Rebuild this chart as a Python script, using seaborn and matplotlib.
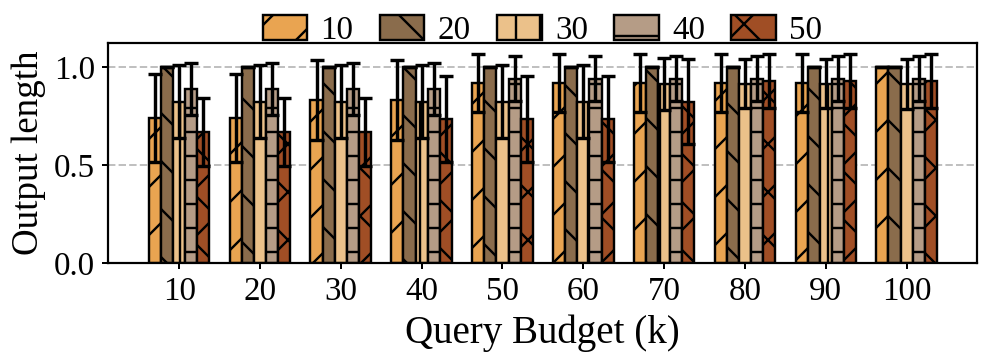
import numpy as np
import pandas as pd
import matplotlib
matplotlib.use('Agg')
import matplotlib.pyplot as plt
import seaborn as sns

budgets = ['10', '20', '30', '40', '50', '60', '70', '80', '90', '100']
series = ['10', '20', '30', '40', '50']

mean_10 = [0.74, 0.74, 0.83, 0.83, 0.92, 0.92, 0.92, 0.92, 0.92, 1.00]
err_10 = [0.225, 0.225, 0.205, 0.205, 0.148, 0.148, 0.148, 0.148, 0.148, 0.0]
mean_20 = [1.00, 1.00, 1.00, 1.00, 1.00, 1.00, 1.00, 1.00, 1.00, 1.00]
err_20 = [0.0, 0.0, 0.0, 0.0, 0.0, 0.0, 0.0, 0.0, 0.0, 0.0]
mean_30 = [0.823, 0.823, 0.823, 0.823, 0.823, 0.823, 0.912, 0.914, 0.914, 0.914]
err_30 = [0.187, 0.187, 0.187, 0.187, 0.187, 0.187, 0.134, 0.126, 0.126, 0.127]
mean_40 = [0.888, 0.888, 0.888, 0.888, 0.94, 0.94, 0.94, 0.94, 0.94, 0.94]
err_40 = [0.131, 0.131, 0.131, 0.131, 0.114, 0.114, 0.114, 0.114, 0.114, 0.114]
mean_50 = [0.668, 0.668, 0.668, 0.733, 0.733, 0.733, 0.822, 0.927, 0.927, 0.927]
err_50 = [0.175, 0.175, 0.175, 0.22, 0.22, 0.22, 0.217, 0.139, 0.139, 0.139]

means = [mean_10, mean_20, mean_30, mean_40, mean_50]
errs = [err_10, err_20, err_30, err_40, err_50]
colors = ['#E9A451', '#8A6C4C', '#EBC18A', '#B59C86', '#A04E25']
hatches = ['/', '\\', '|', '-', 'x']

rows = []
for s, m in zip(series, means):
    for b, v in zip(budgets, m):
        rows.append({'budget': b, 'series': s, 'value': v})
df = pd.DataFrame(rows)

sns.set_style('ticks')
plt.rcParams['font.family'] = ['Liberation Serif', 'DejaVu Serif']
plt.rcParams['hatch.linewidth'] = 1.2
plt.rcParams['text.color'] = 'black'
plt.rcParams['axes.labelcolor'] = 'black'
plt.rcParams['xtick.color'] = 'black'
plt.rcParams['ytick.color'] = 'black'

fig = plt.figure(figsize=(997 / 144, 356 / 144), dpi=144)
ax = fig.add_axes([108 / 997, 1 - 263 / 356, (977 - 108) / 997, (263 - 43) / 356])

sns.barplot(data=df, x='budget', y='value', hue='series', order=budgets,
            hue_order=series, palette=colors, errorbar=None, width=0.75,
            edgecolor='black', linewidth=1.2, saturation=1, legend=False, ax=ax)

bar_containers = list(ax.containers)
for i, cont in enumerate(bar_containers):
    xs = []
    for p in cont.patches:
        p.set_hatch(hatches[i])
        xs.append(p.get_x() + p.get_width() / 2)
    ax.errorbar(xs, means[i], yerr=errs[i], fmt='none', ecolor='black',
                elinewidth=1.7, capsize=3.3, capthick=1.7, zorder=5)

ax.set_xlim(-0.88, 9.87)
ax.set_ylim(0, 1.122)
ax.set_yticks([0, 0.5, 1.0])
ax.set_yticklabels(['0.0', '0.5', '1.0'])
ax.yaxis.grid(True, linestyle='--', color='#c0c0c0', linewidth=1.0)
ax.set_axisbelow(True)
for sp in ax.spines.values():
    sp.set_visible(True)
    sp.set_linewidth(1.1)
    sp.set_color('black')
ax.tick_params(axis='both', labelsize=16.5, length=3, width=1.0, colors='black')
ax.set_xlabel('Query Budget (k)', fontsize=19.5, color='black')
ax.set_ylabel('Output length', fontsize=18.5, color='black')

handles = [cont.patches[0] for cont in bar_containers]
ax.legend(handles=handles, labels=series, loc='lower center',
          bbox_to_anchor=(0.5, 0.97), ncol=5, frameon=False,
          handlelength=1.35, handleheight=0.78, handletextpad=0.4,
          columnspacing=0.8, borderaxespad=0, borderpad=0.1, fontsize=16.5,
          labelcolor='black')

fig.savefig('out.png', dpi=144)
